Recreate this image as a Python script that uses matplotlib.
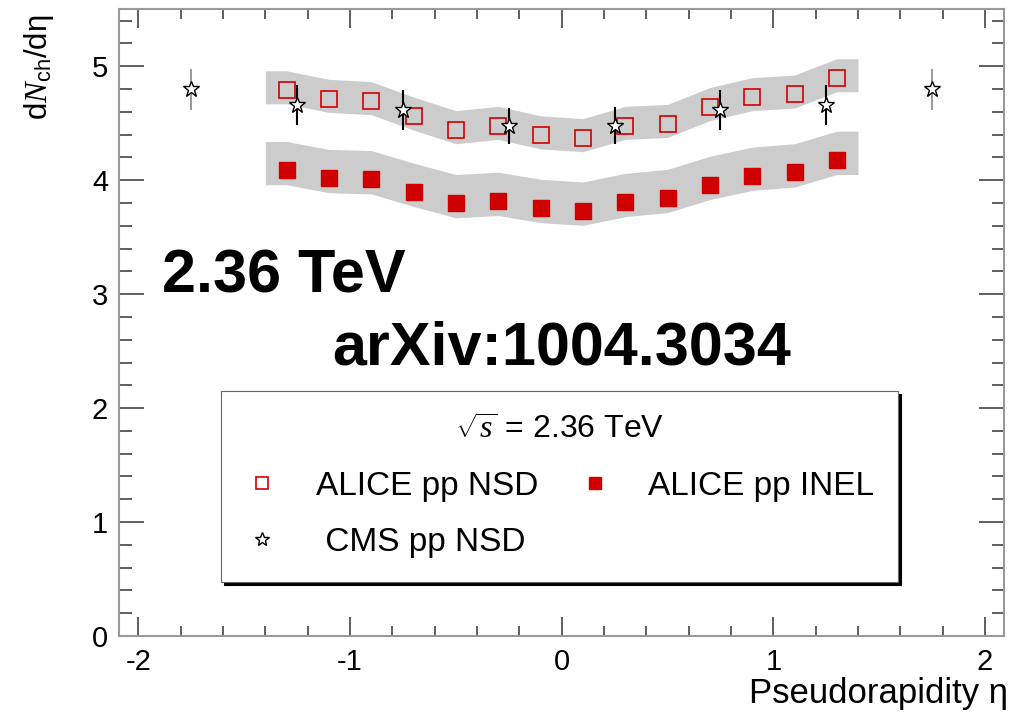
import numpy as np
import matplotlib
matplotlib.use("Agg")
import matplotlib.pyplot as plt
from matplotlib.ticker import MultipleLocator

plt.rcParams['font.family'] = ['Liberation Sans', 'DejaVu Sans']
plt.rcParams['mathtext.fontset'] = 'custom'
plt.rcParams['mathtext.rm'] = 'Liberation Sans'
plt.rcParams['mathtext.it'] = 'Liberation Serif:italic'

# ALICE pp 2.36 TeV, |eta| < 1.4
eta_alice = [-1.3, -1.1, -0.9, -0.7, -0.5, -0.3, -0.1, 0.1, 0.3, 0.5, 0.7, 0.9, 1.1, 1.3]
nsd = [4.79, 4.715, 4.695, 4.56, 4.44, 4.478, 4.395, 4.37, 4.478, 4.495, 4.643, 4.73, 4.753, 4.896]
inel = [4.09, 4.02, 4.01, 3.90, 3.80, 3.82, 3.758, 3.734, 3.81, 3.845, 3.96, 4.04, 4.07, 4.18]
nsd_sys_up, nsd_sys_dn = 0.17, 0.12
inel_sys_up, inel_sys_dn = 0.25, 0.13
eta_band_edge = 1.4

# CMS pp NSD 2.36 TeV
eta_cms = [-1.75, -1.25, -0.75, -0.25, 0.25, 0.75, 1.25, 1.75]
cms = [4.80, 4.66, 4.617, 4.478, 4.478, 4.617, 4.66, 4.80]
cms_err = [0.18, 0.175, 0.173, 0.156, 0.16, 0.173, 0.176, 0.18]

red = '#d10000'
band = '#cccccc'

fig = plt.figure(figsize=(10.18, 7.13), dpi=100)
ax = fig.add_axes([0.1172, 0.108, 0.8691, 0.879])


def draw_band(vals, up, dn):
    x = np.concatenate(([-eta_band_edge], eta_alice, [eta_band_edge]))
    v = np.asarray(vals)
    v = np.concatenate(([v[0]], v, [v[-1]]))
    ax.fill_between(x, v - dn, v + up, color=band, lw=0, zorder=1)


draw_band(nsd, nsd_sys_up, nsd_sys_dn)
draw_band(inel, inel_sys_up, inel_sys_dn)

h_nsd, = ax.plot(eta_alice, nsd, ls='none', marker='s', ms=11, mfc='none',
                 mec=red, mew=1.2, zorder=3, label='ALICE pp NSD')
h_inel, = ax.plot(eta_alice, inel, ls='none', marker='s', ms=11, mfc=red,
                  mec=red, zorder=3, label='ALICE pp INEL')

eta_c = np.asarray(eta_cms)
cms_a = np.asarray(cms)
err_a = np.asarray(cms_err)
outer = np.abs(eta_c) > 1.5
ax.errorbar(eta_c[~outer], cms_a[~outer], yerr=err_a[~outer], fmt='none',
            ecolor='black', elinewidth=1.5, capsize=0, zorder=4)
ax.errorbar(eta_c[outer], cms_a[outer], yerr=err_a[outer], fmt='none',
            ecolor='#888888', elinewidth=1.2, capsize=0, zorder=4)
h_cms, = ax.plot(eta_cms, cms, ls='none', marker='*', ms=12, mfc='white',
                 mec='black', mew=1.0, zorder=5, label=' CMS pp NSD')

ax.set_xlim(-2.09, 2.09)
ax.set_ylim(0, 5.5)

ax.xaxis.set_major_locator(MultipleLocator(1))
ax.xaxis.set_minor_locator(MultipleLocator(0.2))
ax.yaxis.set_major_locator(MultipleLocator(1))
ax.yaxis.set_minor_locator(MultipleLocator(0.2))
ax.tick_params(axis='both', which='both', direction='in', top=True, right=True,
               color='#333333', labelsize=21)
ax.tick_params(axis='x', which='major', length=14, width=1.1, pad=8.5)
ax.tick_params(axis='x', which='minor', length=7, width=1.1)
ax.tick_params(axis='y', which='major', length=18, width=1.1, pad=8)
ax.tick_params(axis='y', which='minor', length=9, width=1.1)
ax.set_xticks([-2, -1, 0, 1, 2])
ax.set_xticklabels(['-2', '-1', '0', '1', '2'])
ax.set_yticks([0, 1, 2, 3, 4, 5])
ax.set_yticklabels(['0', '1', '2', '3', '4', '5'])
for sp in ax.spines.values():
    sp.set_color('#999999')
    sp.set_linewidth(1.5)

ax.set_xlabel('Pseudorapidity η', fontsize=25, ha='right')
ax.xaxis.set_label_coords(1.0045, -0.0655)
ax.set_ylabel(r'd$\mathit{N}_{\rm ch}$/dη', fontsize=22.5, ha='right')
ax.yaxis.set_label_coords(-0.072, 0.992)

ax.text(-1.887, 3.016, '2.36 TeV', fontsize=44, fontweight='bold', va='baseline')
ax.text(-1.084, 2.385, 'arXiv:1004.3034', fontsize=44, fontweight='bold', va='baseline')

leg = ax.legend(handles=[h_nsd, h_cms, h_inel], ncol=2,
                title=r'$\sqrt{s}$ = 2.36 TeV', title_fontsize=23, fontsize=24,
                loc='upper left', bbox_to_anchor=(-1.608, 2.148),
                bbox_transform=ax.transData, borderaxespad=0,
                borderpad=0.73, handlelength=1.0, handletextpad=1.1,
                columnspacing=1.2, labelspacing=0.75, markerscale=0.85,
                fancybox=False, framealpha=1, edgecolor='#666666',
                shadow={'color': 'black', 'alpha': 1})
leg.get_frame().set_linewidth(0.8)

fig.savefig('out.png', dpi=100)
